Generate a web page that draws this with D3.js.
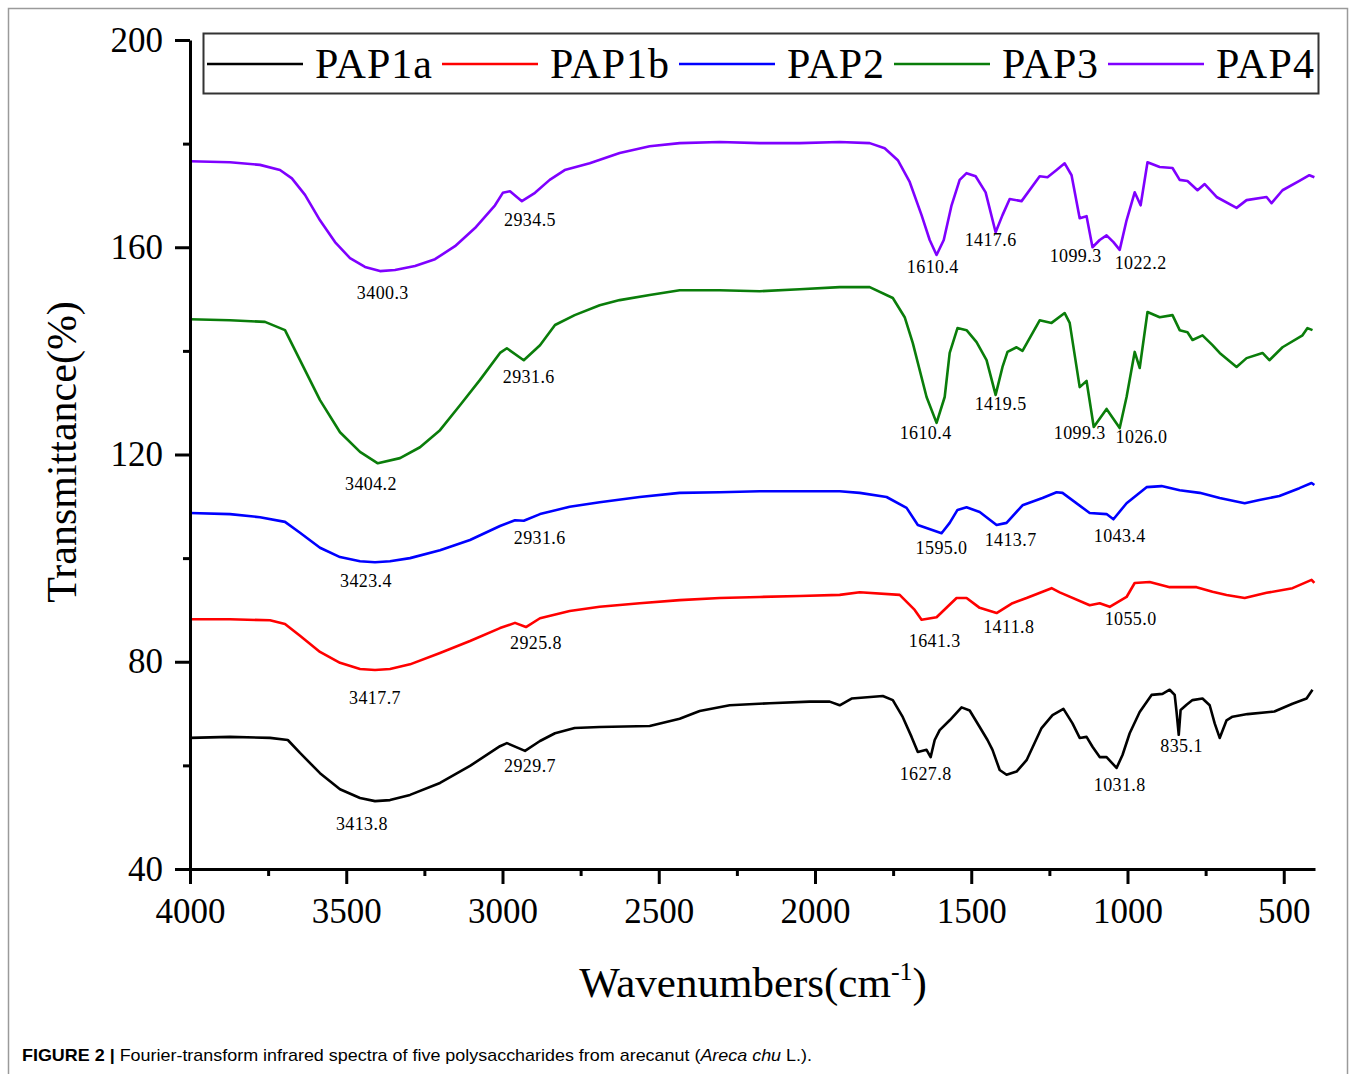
<!DOCTYPE html>
<html>
<head>
<meta charset="utf-8">
<script src="https://cdn.jsdelivr.net/npm/d3@7/dist/d3.min.js"></script>
<style>
  body { margin: 0; background: #fff; }
  svg text { font-family: "Liberation Serif", "Times New Roman", serif; fill: #000; }
</style>
</head>
<body>
<svg id="chart" width="1358" height="1074"></svg>
<script>
// ---- data (wavenumber cm-1, transmittance %) ----
const seriesNames = ["PAP1a", "PAP1b", "PAP2", "PAP3", "PAP4"]
const seriesColors = ["#000000", "#ff0000", "#0000ff", "#0a7d0a", "#7f00ff"]

const pap1a = [[4000,65.3],[3872,65.5],[3744,65.3],[3687,64.9],[3648,62.4],[3584,58.5],[3520,55.4],[3456,53.7],[3408,53.1],[3360,53.3],[3296,54.3],[3200,56.6],[3104,59.9],[3008,63.7],[2986,64.3],[2928,62.8],[2880,64.7],[2832,66.2],[2769,67.2],[2689,67.4],[2529,67.6],[2433,69.0],[2369,70.5],[2273,71.6],[2145,72.0],[2017,72.3],[1953,72.3],[1921,71.6],[1883,72.9],[1783,73.4],[1751,72.6],[1719,69.3],[1691,65.5],[1671,62.6],[1643,63.0],[1630,61.6],[1617,64.9],[1601,66.8],[1569,68.7],[1531,71.2],[1505,70.6],[1473,67.4],[1448,64.9],[1432,63.0],[1409,59.1],[1387,58.2],[1355,58.8],[1323,61.0],[1275,67.2],[1240,69.7],[1205,70.9],[1176,68.1],[1153,65.3],[1131,65.5],[1112,63.6],[1089,61.6],[1067,61.6],[1035,59.5],[1016,62.0],[993,66.2],[961,70.3],[923,73.6],[888,73.8],[865,74.6],[849,73.6],[843,70.3],[836,65.9],[830,70.7],[811,71.7],[792,72.6],[760,72.9],[737,71.6],[721,68.1],[705,65.3],[683,68.7],[664,69.4],[616,69.9],[530,70.4],[472,71.9],[427,72.9],[408,74.6]]

const pap1b = [[4000,88.2],[3872,88.2],[3744,88.0],[3696,87.3],[3648,85.0],[3584,81.9],[3520,79.8],[3456,78.6],[3408,78.4],[3360,78.6],[3296,79.5],[3200,81.7],[3104,84.0],[3008,86.5],[2960,87.5],[2925,86.7],[2880,88.4],[2785,89.8],[2689,90.6],[2561,91.3],[2433,91.9],[2305,92.3],[2177,92.5],[2049,92.7],[1921,92.9],[1857,93.4],[1729,92.9],[1681,90.0],[1659,88.1],[1611,88.6],[1547,92.3],[1515,92.3],[1473,90.4],[1419,89.4],[1368,91.3],[1323,92.3],[1243,94.2],[1217,93.4],[1121,90.9],[1089,91.3],[1057,90.6],[1003,92.5],[977,95.2],[929,95.4],[865,94.4],[779,94.4],[728,93.5],[683,92.9],[625,92.3],[555,93.3],[472,94.2],[411,95.8],[402,95.2]]

const pap2 = [[4000,108.7],[3872,108.5],[3776,107.9],[3696,107.0],[3648,104.9],[3584,102.0],[3520,100.2],[3456,99.4],[3408,99.2],[3360,99.4],[3296,100.0],[3200,101.5],[3104,103.5],[3008,106.2],[2960,107.3],[2932,107.2],[2880,108.5],[2785,109.9],[2689,110.8],[2561,111.8],[2433,112.6],[2305,112.7],[2177,112.9],[2049,112.9],[1921,112.9],[1857,112.6],[1771,111.8],[1707,109.7],[1671,106.4],[1595,104.8],[1569,106.8],[1544,109.3],[1515,109.8],[1473,108.9],[1419,106.4],[1387,106.8],[1336,110.2],[1272,111.6],[1227,112.7],[1208,112.6],[1121,108.7],[1067,108.5],[1045,107.5],[1003,110.6],[939,113.7],[891,113.9],[833,113.1],[769,112.6],[705,111.6],[625,110.6],[578,111.2],[514,112.0],[450,113.5],[411,114.5],[402,114.1]]

const pap3 = [[4000,146.1],[3872,145.9],[3760,145.6],[3696,144.0],[3648,138.2],[3584,130.5],[3520,124.3],[3456,120.5],[3399,118.3],[3328,119.3],[3264,121.4],[3200,124.7],[3136,129.5],[3072,134.4],[3008,139.6],[2986,140.5],[2932,138.2],[2880,141.1],[2832,145.0],[2769,146.9],[2689,148.8],[2625,149.8],[2529,150.8],[2433,151.7],[2305,151.7],[2177,151.5],[2049,151.9],[1921,152.3],[1825,152.3],[1751,150.2],[1713,146.5],[1687,141.5],[1643,131.1],[1611,126.1],[1585,131.1],[1569,139.6],[1544,144.4],[1515,144.0],[1483,141.7],[1451,138.2],[1422,131.5],[1400,136.9],[1384,139.8],[1355,140.7],[1336,140.0],[1281,145.9],[1243,145.4],[1201,147.3],[1185,145.4],[1153,133.0],[1131,134.2],[1108,125.3],[1067,128.8],[1025,125.1],[1003,131.1],[977,139.8],[961,136.7],[936,147.5],[897,146.5],[856,146.9],[833,144.0],[808,143.6],[792,142.1],[760,143.0],[728,141.1],[705,139.6],[651,136.9],[619,138.6],[568,139.6],[546,138.2],[504,140.7],[440,143.0],[424,144.4],[408,144.0]]

const pap4 = [[4000,176.6],[3872,176.4],[3776,175.9],[3712,174.9],[3674,173.3],[3632,170.1],[3584,165.2],[3536,161.0],[3488,157.9],[3440,156.2],[3392,155.4],[3344,155.6],[3280,156.4],[3216,157.7],[3152,160.2],[3088,163.7],[3024,168.1],[2999,170.5],[2976,170.8],[2938,168.9],[2896,170.5],[2849,173.0],[2801,174.9],[2721,176.2],[2625,178.2],[2529,179.5],[2433,180.1],[2305,180.3],[2177,180.1],[2049,180.1],[1921,180.3],[1825,180.1],[1777,179.1],[1735,176.8],[1697,172.6],[1659,166.2],[1633,161.4],[1611,158.5],[1588,161.4],[1563,168.1],[1537,173.0],[1515,174.3],[1486,173.7],[1454,170.6],[1422,162.9],[1400,166.2],[1377,169.3],[1339,168.9],[1281,173.7],[1256,173.5],[1227,174.9],[1201,176.2],[1179,173.9],[1153,165.6],[1131,166.0],[1112,160.0],[1089,161.4],[1067,162.3],[1045,161.0],[1025,159.5],[1003,165.2],[977,170.6],[958,168.1],[936,176.4],[897,175.5],[856,175.3],[833,173.0],[808,172.8],[776,171.0],[753,172.2],[715,169.7],[651,167.6],[619,169.1],[555,169.7],[539,168.5],[504,171.0],[450,172.8],[418,173.9],[402,173.5]]

const allSeries = [pap1a, pap1b, pap2, pap3, pap4]

// peak labels: [text, wavenumber (label centre), transmittance (baseline)]
const peaks1a = [["3413.8",3450,47.5],["2929.7",2912,58.7],["1627.8",1646,57.2],["1031.8",1025,55.0],["835.1",827,62.6]]
const peaks1b = [["3417.7",3408,71.8],["2925.8",2893,82.4],["1641.3",1617,82.8],["1411.8",1380,85.5],["1055.0",990,87.1]]
const peaks2 = [["3423.4",3437,94.4],["2931.6",2881,102.7],["1595.0",1595,100.8],["1413.7",1374,102.3],["1043.4",1025,103.1]]
const peaks3 = [["3404.2",3421,113.1],["2931.6",2916,133.8],["1610.4",1646,123.0],["1419.5",1406,128.6],["1099.3",1153,123.0],["1026.0",955,122.2]]
const peaks4 = [["3400.3",3383,150.0],["2934.5",2912,164.1],["1610.4",1623,155.0],["1417.6",1438,160.2],["1099.3",1166,157.1],["1022.2",958,155.8]]
const allPeaks = [].concat(peaks1a, peaks1b, peaks2, peaks3, peaks4)

const xMajor = [4000, 3500, 3000, 2500, 2000, 1500, 1000, 500]
const xMinor = [3750, 3250, 2750, 2250, 1750, 1250, 750]
const yMajor = [40, 80, 120, 160, 200]
const yMinor = [60, 100, 140, 180]

// ---- layout ----
const svg = d3.select("#chart")
const plotLeft = 190, plotRight = 1315, plotTop = 40, plotBottom = 869

const x = d3.scaleLinear().domain([4000, 400]).range([plotLeft, plotRight])
const y = d3.scaleLinear().domain([40, 200]).range([plotBottom, plotTop])

// outer figure frame
svg.append("rect")
    .attr("x", 8.5).attr("y", 8.5)
    .attr("width", 1339).attr("height", 1080)
    .attr("fill", "none").attr("stroke", "#9a9a9a").attr("stroke-width", 1.5)

// curves
const line = d3.line().x(d => x(d[0])).y(d => y(d[1]))
svg.append("g").selectAll("path")
    .data(allSeries)
    .enter().append("path")
    .attr("d", line)
    .attr("fill", "none")
    .attr("stroke", (d, i) => seriesColors[i])
    .attr("stroke-width", 2.6)
    .attr("stroke-linejoin", "round")

// peak labels
svg.append("g").selectAll("text")
    .data(allPeaks)
    .enter().append("text")
    .attr("x", d => x(d[1]))
    .attr("y", d => y(d[2]))
    .attr("text-anchor", "middle")
    .style("font-size", "18px")
    .style("letter-spacing", "0.4px")
    .text(d => d[0])

// axes
function styleAxis(g) {
    g.selectAll(".domain").attr("stroke", "#000").attr("stroke-width", 3)
    g.selectAll(".tick line").attr("stroke", "#000").attr("stroke-width", 3)
    g.selectAll(".tick text").style("font-size", "35px")
        .style("font-family", '"Liberation Serif", "Times New Roman", serif')
        .attr("fill", "#000")
}

svg.append("g")
    .attr("transform", `translate(0,${plotBottom})`)
    .call(d3.axisBottom(x).tickValues(xMinor).tickSize(7).tickFormat(""))
    .call(g => g.select(".domain").remove())
    .call(styleAxis)

svg.append("g")
    .attr("transform", `translate(${plotLeft},0)`)
    .call(d3.axisLeft(y).tickValues(yMinor).tickSize(7).tickFormat(""))
    .call(g => g.select(".domain").remove())
    .call(styleAxis)

svg.append("g")
    .attr("transform", `translate(0,${plotBottom})`)
    .call(d3.axisBottom(x).tickValues(xMajor).tickSize(15).tickSizeOuter(0).tickPadding(14).tickFormat(d3.format("d")))
    .call(styleAxis)

svg.append("g")
    .attr("transform", `translate(${plotLeft},0)`)
    .call(d3.axisLeft(y).tickValues(yMajor).tickSize(15).tickSizeOuter(0).tickPadding(12).tickFormat(d3.format("d")))
    .call(styleAxis)

// axis titles
svg.append("text")
    .attr("transform", "translate(76,452) rotate(-90)")
    .attr("text-anchor", "middle")
    .style("font-size", "42px")
    .text("Transmittance(%)")

const xt = svg.append("text")
    .attr("x", 753).attr("y", 997)
    .attr("text-anchor", "middle")
    .style("font-size", "43px")
xt.append("tspan").text("Wavenumbers(cm")
xt.append("tspan").attr("dy", -17).style("font-size", "26px").text("-1")
xt.append("tspan").attr("dy", 17).text(")")

// legend
const legend = svg.append("g")
legend.append("rect")
    .attr("x", 203.5).attr("y", 33.5)
    .attr("width", 1115).attr("height", 60)
    .attr("fill", "#fff").attr("stroke", "#333").attr("stroke-width", 2)

const legendTextWidths = [117, 119, 97, 96, 98]
let lx = 207
seriesNames.forEach((name, i) => {
    legend.append("line")
        .attr("x1", lx).attr("x2", lx + 96)
        .attr("y1", 64).attr("y2", 64)
        .attr("stroke", seriesColors[i]).attr("stroke-width", 2.6)
    legend.append("text")
        .attr("x", lx + 108).attr("y", 78)
        .style("font-size", "42px")
        .attr("textLength", legendTextWidths[i])
        .attr("lengthAdjust", "spacing")
        .text(name)
    lx += 108 + legendTextWidths[i] + 10
})

// caption
const sans = '"Liberation Sans", Arial, sans-serif'
const cap = svg.append("text")
    .attr("x", 22).attr("y", 1061)
    .style("font-family", sans)
    .style("font-size", "17px")
    .attr("fill", "#222")
cap.append("tspan").style("font-weight", "bold").style("font-family", sans).text("FIGURE 2 |")
cap.append("tspan").style("font-family", sans).text(" Fourier-transform infrared spectra of five polysaccharides from arecanut (")
cap.append("tspan").style("font-style", "italic").style("font-family", sans).text("Areca chu")
cap.append("tspan").style("font-family", sans).text(" L.).")
cap.attr("textLength", 790).attr("lengthAdjust", "spacingAndGlyphs")
</script>
</body>
</html>
